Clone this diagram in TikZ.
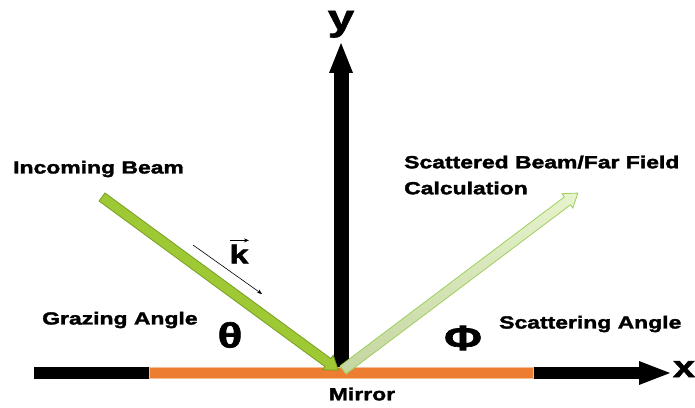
\documentclass[tikz,border=0pt]{standalone}
\usepackage{fontspec}
\newfontfamily\lab[FakeStretch=1.31,FakeBold=2]{Liberation Sans}
\usetikzlibrary{arrows.meta}
\definecolor{beamgreen}{RGB}{158,200,52}
\definecolor{beamedge}{RGB}{118,160,36}
\definecolor{scatfill}{RGB}{214,235,172}
\definecolor{scatedge}{RGB}{160,206,92}
\definecolor{mirrorfill}{RGB}{237,125,49}
\definecolor{mirroredge}{RGB}{246,190,150}
\begin{document}
\begin{tikzpicture}[x=1pt,y=1pt,
  lbl/.style={inner sep=0pt,font=\lab\bfseries\fontsize{17.5}{26}\selectfont},
  big/.style={inner sep=0pt,font=\lab\bfseries\fontsize{35}{40}\selectfont}]
\useasboundingbox (0,0) rectangle (695,407);
% x axis
\fill[black] (34,28) rectangle (641,40);
\fill[black] (639,46) -- (670,34) -- (639,22) -- cycle;
\node[inner sep=0pt,anchor=base,font=\lab\bfseries\fontsize{30}{30}\selectfont] (xl) at (684,30) {x};
% mirror
\draw[mirroredge,fill=mirrorfill,line width=1pt] (149,28.5) rectangle (533,39.5);
\node[lbl] (mirror) at (362,13) {Mirror};
% y axis
\fill[black] (333.5,40) rectangle (348.5,335);
\fill[black] (329,334) -- (341,364) -- (353,334) -- cycle;
\node[inner sep=0pt,anchor=base,font=\lab\bfseries\fontsize{36}{36}\selectfont] (yl) at (341,377) {y};
% incoming beam
\begin{scope}[shift={(102,210)},rotate=-36.24]
\draw[beamedge,fill=beamgreen,line width=0.8pt,line join=miter]
  (0,5) -- (280,5) -- (280,9) -- (293,0) -- (280,-9) -- (280,-5) -- (0,-5) -- cycle;
\end{scope}
% scattered beam
\begin{scope}[shift={(343,37)},rotate=37]
\shade[top color=scatfill!60!white,bottom color=scatfill!90!black!95,draw=scatedge,line width=0.8pt,line join=miter]
  (0,5) -- (281,5) -- (281,9) -- (294,0) -- (281,-9) -- (281,-5) -- (0,-5) -- cycle;
\end{scope}
% k vector
\coordinate (ka) at (193,162);
\coordinate (kb) at (262,113);
\draw[-{Stealth[length=5pt,width=4pt]},line width=0.6pt] (ka) -- (kb);
\node[inner sep=0pt,font=\lab\bfseries\fontsize{26}{26}\selectfont] (k) at (239,153) {k};
\draw[-{Stealth[length=5pt,width=4pt]},line width=1pt] ([xshift=-9pt,yshift=4pt]k.north) -- ([xshift=10pt,yshift=4pt]k.north);
% labels
\node[lbl,anchor=west] (inc) at (13,238) {Incoming Beam};
\node[lbl,anchor=west,align=left] (scat) at (404,232) {Scattered Beam/Far Field\\Calculation};
\node[lbl,anchor=west] (graz) at (42,87) {Grazing Angle};
\node[lbl,anchor=west] (scang) at (499,83) {Scattering Angle};
\node[big] (theta) at (230,72) {θ};
\node[big] (phi) at (463,69) {Φ};
\end{tikzpicture}
\end{document}
